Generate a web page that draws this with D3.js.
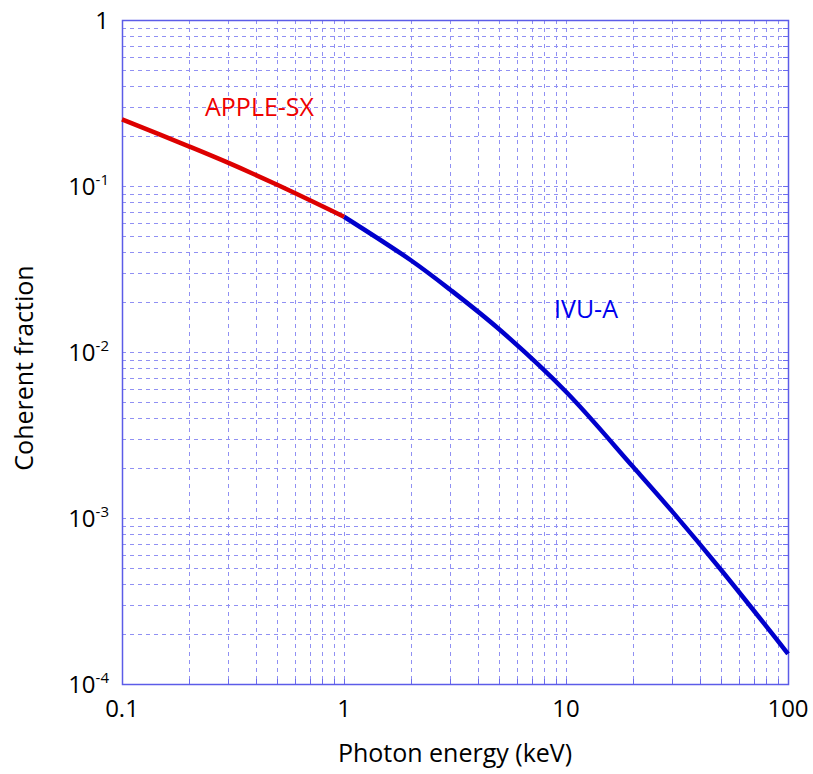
<!DOCTYPE html>
<html>
<head>
<meta charset="utf-8">
<script src="https://cdn.jsdelivr.net/npm/d3@7"></script>
<style>
  body { margin: 0; background: #fff; }
  text { font-family: "Open Sans", Lato, sans-serif; }
</style>
</head>
<body>
<div id="chart"></div>
<script>
// Data (photon energy in keV, coherent fraction)
const appleEnergy = [0.1, 0.2, 0.3, 0.5, 1];
const appleFraction = [0.252, 0.1734, 0.1382, 0.1017, 0.0653];
const ivuEnergy = [1, 2, 3, 5, 10, 20, 30, 50, 100];
const ivuFraction = [0.0653, 0.0357, 0.0238, 0.0137, 0.00576, 0.00204, 0.0011, 0.000486, 0.000152];
const xTicks = [0.1, 1, 10, 100];
const yTicks = [1e-4, 1e-3, 1e-2, 1e-1, 1];
const yTickExp = [-4, -3, -2, -1, 0];

const w = 813, h = 774;
const marginTop = 20, marginRight = 25, marginBottom = 90, marginLeft = 122;

const svg = d3.select("#chart").append("svg")
  .attr("width", w).attr("height", h)
  .attr("viewBox", [0, 0, w, h]);

const x = d3.scaleLog([0.1, 100], [marginLeft, w - marginRight]);
const y = d3.scaleLog([1e-4, 1], [h - marginBottom, marginTop]);

const gridColor = "#6c6cf0";

// minor + major gridlines (1..9 per decade)
const xGrid = [];
for (let d = 0.1; d < 100; d *= 10) for (let k = 1; k < 10; k++) xGrid.push(+(d * k).toPrecision(3));
const yGrid = [];
for (let d = 1e-4; d < 1; d *= 10) for (let k = 1; k < 10; k++) yGrid.push(+(d * k).toPrecision(3));

const grid = svg.append("g").attr("stroke", gridColor).attr("stroke-width", 1)
  .attr("stroke-dasharray", "4,4").attr("opacity", 0.75);
grid.selectAll(".vx").data(xGrid.slice(1)).join("line")
  .attr("x1", d => Math.round(x(d)) + 0.5).attr("x2", d => Math.round(x(d)) + 0.5)
  .attr("y1", marginTop).attr("y2", h - marginBottom);
grid.selectAll(".hy").data(yGrid.slice(1)).join("line")
  .attr("y1", d => Math.round(y(d)) + 0.5).attr("y2", d => Math.round(y(d)) + 0.5)
  .attr("x1", marginLeft).attr("x2", w - marginRight);

// inward ticks on the frame
const ticks = svg.append("g").attr("stroke", gridColor).attr("stroke-width", 1);
ticks.selectAll(".tb").data(xGrid.slice(1)).join("line")
  .attr("x1", d => Math.round(x(d)) + 0.5).attr("x2", d => Math.round(x(d)) + 0.5)
  .attr("y1", h - marginBottom).attr("y2", h - marginBottom - 5);
ticks.selectAll(".tr").data(yGrid.slice(1)).join("line")
  .attr("y1", d => Math.round(y(d)) + 0.5).attr("y2", d => Math.round(y(d)) + 0.5)
  .attr("x1", w - marginRight).attr("x2", w - marginRight - 5);

// frame
svg.append("rect")
  .attr("x", marginLeft + 0.5).attr("y", marginTop + 0.5)
  .attr("width", w - marginRight - marginLeft).attr("height", h - marginBottom - marginTop)
  .attr("fill", "none").attr("stroke", "#5c5ce8").attr("stroke-width", 1.5);

// curves
const line = d3.line().x(d => x(d[0])).y(d => y(d[1])).curve(d3.curveCatmullRom.alpha(0.5));
svg.append("path")
  .datum(d3.zip(ivuEnergy, ivuFraction))
  .attr("fill", "none").attr("stroke", "#0000cc").attr("stroke-width", 4.5)
  .attr("d", line);
svg.append("path")
  .datum(d3.zip(appleEnergy, appleFraction))
  .attr("fill", "none").attr("stroke", "#dd0000").attr("stroke-width", 4.5)
  .attr("d", line);

// x tick labels
svg.append("g").selectAll("text").data(xTicks).join("text")
  .attr("x", d => x(d)).attr("y", h - marginBottom + 33)
  .attr("text-anchor", "middle").attr("font-size", 24).attr("fill", "#000")
  .text(d => d3.format("~g")(d));

// y tick labels with superscripts
const yl = svg.append("g").selectAll("text").data(yTicks).join("text")
  .attr("x", 109).attr("y", d => y(d) + 9)
  .attr("text-anchor", "end").attr("font-size", 24).attr("fill", "#000");
yl.each(function (d, i) {
  const t = d3.select(this);
  const e = yTickExp[i];
  if (e === 0) { t.text("1"); return; }
  t.append("tspan").text("10");
  t.append("tspan").attr("font-size", 15).attr("dy", -10).text(e);
});

// axis titles
svg.append("text")
  .attr("x", (marginLeft + w - marginRight) / 2).attr("y", 762)
  .attr("text-anchor", "middle").attr("font-size", 25).attr("fill", "#000")
  .text("Photon energy (keV)");
svg.append("text")
  .attr("transform", `translate(33,${(marginTop + h - marginBottom) / 2 + 16}) rotate(-90)`)
  .attr("text-anchor", "middle").attr("font-size", 25).attr("fill", "#000")
  .text("Coherent fraction");

// series labels
svg.append("text")
  .attr("x", 205).attr("y", 116)
  .attr("font-size", 25).attr("fill", "#ee0000").text("APPLE-SX");
svg.append("text")
  .attr("x", 554).attr("y", 318)
  .attr("font-size", 25).attr("fill", "#0000ee").text("IVU-A");
</script>
</body>
</html>
